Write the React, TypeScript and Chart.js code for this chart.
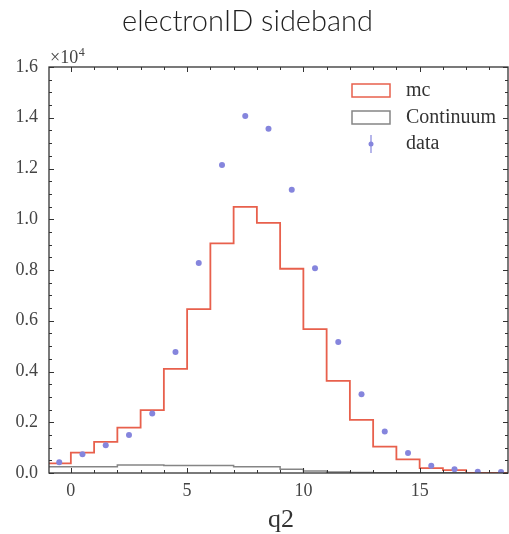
import React, { useEffect, useRef } from "react";
import { Chart, registerables } from "chart.js";

Chart.register(...registerables);

// ---- data (counts) ----
const binEdges = [-1, 0, 1, 2, 3, 4, 5, 6, 7, 8, 9, 10, 11, 12, 13, 14, 15, 16, 17, 18, 19];
const mcCounts = [380, 800, 1230, 1790, 2480, 4100, 6460, 9050, 10490, 9860, 8050, 5670, 3630, 2090, 1040, 540, 190, 110, 0, 0];
const continuumCounts = [250, 250, 250, 320, 320, 300, 300, 300, 250, 250, 150, 80, 40, 20, 10, 10, 5, 5, 0, 0];
const dataCenters = [-0.5, 0.5, 1.5, 2.5, 3.5, 4.5, 5.5, 6.5, 7.5, 8.5, 9.5, 10.5, 11.5, 12.5, 13.5, 14.5, 15.5, 16.5, 17.5, 18.5];
const dataCounts = [420, 740, 1090, 1500, 2340, 4770, 8280, 12140, 14070, 13570, 11160, 8070, 5160, 3100, 1640, 790, 290, 150, 50, 40];
const xTickValues = [0, 5, 10, 15];
const yTickValues = [0, 2000, 4000, 6000, 8000, 10000, 12000, 14000, 16000];
const seriesLabels = ["mc", "Continuum", "data"];
const titleText = "electronID sideband";
const xAxisLabel = "q2";

const RED = "#e8604c";
const GRAY = "#858585";
const BLUE = "#8585dd";
const SERIF = '"Liberation Serif", "DejaVu Serif", serif';

function stepPoints(edges: number[], counts: number[]) {
  const pts: { x: number; y: number }[] = [{ x: edges[0], y: 0 }];
  counts.forEach((c, i) => pts.push({ x: edges[i], y: c }));
  pts.push({ x: edges[edges.length - 1], y: counts[counts.length - 1] });
  pts.push({ x: edges[edges.length - 1], y: 0 });
  return pts;
}

const decorations = {
  id: "decorations",
  afterDatasetsDraw(chart: any) {
    const { ctx, chartArea, scales } = chart;
    const { left, right, top, bottom } = chartArea;
    const xs = scales.x;
    const ys = scales.y;
    ctx.save();
    // frame
    ctx.strokeStyle = "#333";
    ctx.lineWidth = 1.3;
    ctx.strokeRect(left, top, right - left, bottom - top);
    // ticks (inward, all sides)
    ctx.lineWidth = 1;
    ctx.beginPath();
    for (let v = Math.ceil(xs.min); v <= xs.max; v += 1) {
      const px = Math.round(xs.getPixelForValue(v)) + 0.5;
      const len = v % 5 === 0 ? 5 : 3;
      ctx.moveTo(px, bottom);
      ctx.lineTo(px, bottom - len);
      ctx.moveTo(px, top);
      ctx.lineTo(px, top + len);
    }
    for (let v = 0; v <= ys.max; v += 500) {
      const py = Math.round(ys.getPixelForValue(v)) + 0.5;
      const len = v % 2000 === 0 ? 5 : 3;
      ctx.moveTo(left, py);
      ctx.lineTo(left + len, py);
      ctx.moveTo(right, py);
      ctx.lineTo(right - len, py);
    }
    ctx.stroke();

    // multiplier
    ctx.fillStyle = "#444";
    ctx.font = `18px ${SERIF}`;
    ctx.textAlign = "left";
    ctx.textBaseline = "alphabetic";
    ctx.fillText("\u00d710", 50, 63);
    const w = ctx.measureText("\u00d710").width;
    ctx.font = `12px ${SERIF}`;
    ctx.fillText("4", 50 + w + 0.5, 56);

    // title
    ctx.fillStyle = "#222";
    ctx.font = `300 29px Lato, "Open Sans", sans-serif`;
    ctx.textAlign = "center";
    ctx.fillText(titleText, 247.5, 31);

    // x axis label
    ctx.fillStyle = "#333";
    ctx.font = `26px ${SERIF}`;
    ctx.fillText(xAxisLabel, 281, 527);

    // legend
    const ds = chart.data.datasets;
    const lx = 352;
    const rows = [91, 118, 144];
    ctx.lineWidth = 1.5;
    for (let i = 0; i < 2; i++) {
      ctx.strokeStyle = ds[i].borderColor;
      ctx.strokeRect(lx, rows[i] - 7, 38, 13);
    }
    ctx.strokeStyle = ds[2].backgroundColor;
    ctx.lineWidth = 1.2;
    ctx.beginPath();
    ctx.moveTo(lx + 19, rows[2] - 9);
    ctx.lineTo(lx + 19, rows[2] + 9);
    ctx.stroke();
    ctx.fillStyle = ds[2].backgroundColor;
    ctx.beginPath();
    ctx.arc(lx + 19, rows[2], 2.5, 0, Math.PI * 2);
    ctx.fill();
    ctx.fillStyle = "#333";
    ctx.font = `20px ${SERIF}`;
    ctx.textAlign = "left";
    ctx.textBaseline = "middle";
    seriesLabels.forEach((t, i) => ctx.fillText(t, 406, rows[i]));
    ctx.restore();
  },
};

export default function App() {
  const ref = useRef<HTMLCanvasElement>(null);
  useEffect(() => {
    if (!ref.current) return;
    const chart = new Chart(ref.current, {
      type: "line",
      data: {
        datasets: [
          {
            label: seriesLabels[0],
            data: stepPoints(binEdges, mcCounts),
            borderColor: RED,
            borderWidth: 1.8,
            stepped: "before",
            pointRadius: 0,
            fill: false,
            order: 2,
          },
          {
            label: seriesLabels[1],
            data: stepPoints(binEdges, continuumCounts),
            borderColor: GRAY,
            borderWidth: 1.5,
            stepped: "before",
            pointRadius: 0,
            fill: false,
            order: 3,
          },
          {
            type: "scatter",
            label: seriesLabels[2],
            data: dataCenters.map((x, i) => ({ x, y: dataCounts[i] })),
            backgroundColor: BLUE,
            borderColor: BLUE,
            pointRadius: 3,
            pointBorderWidth: 0,
            showLine: false,
            order: 1,
          } as any,
        ],
      },
      options: {
        animation: false,
        responsive: false,
        maintainAspectRatio: false,
        devicePixelRatio: 1,
        layout: { padding: { top: 67, left: 0, right: 0, bottom: 0 } },
        plugins: { legend: { display: false }, tooltip: { enabled: false }, title: { display: false } },
        scales: {
          x: {
            type: "linear",
            position: "bottom",
            min: -0.94,
            max: 18.8,
            grid: { display: false, drawTicks: false },
            border: { display: false },
            ticks: { font: { family: SERIF, size: 18 }, color: "#444", padding: 7, maxRotation: 0 },
            afterBuildTicks: (s: any) => {
              s.ticks = xTickValues.map((v) => ({ value: v }));
            },
            afterFit: (s: any) => {
              s.height = 61;
            },
          },
          y: {
            type: "linear",
            min: 0,
            max: 16000,
            grid: { display: false, drawTicks: false },
            border: { display: false },
            ticks: {
              font: { family: SERIF, size: 18 },
              color: "#444",
              padding: 11,
              callback: (v: any) => (Number(v) / 1e4).toFixed(1),
            },
            afterBuildTicks: (s: any) => {
              s.ticks = yTickValues.map((v) => ({ value: v }));
            },
            afterFit: (s: any) => {
              s.width = 49;
            },
          },
        },
      },
      plugins: [decorations],
    });
    return () => chart.destroy();
  }, []);
  return (
    <div style={{ position: "absolute", left: 0, top: 0, width: 509, height: 534, overflow: "hidden", background: "#fff" }}>
      <canvas ref={ref} width={512} height={534} style={{ display: "block", width: 512, height: 534 }} />
    </div>
  );
}
